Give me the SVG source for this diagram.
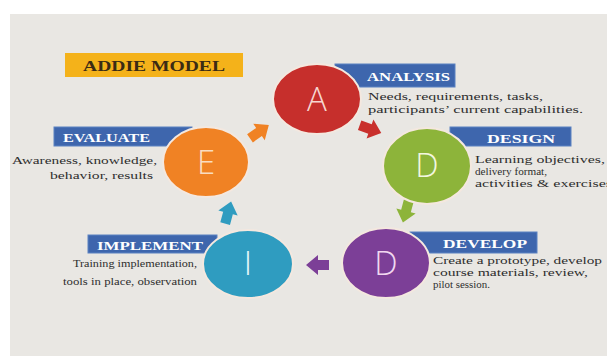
<svg xmlns="http://www.w3.org/2000/svg" width="607" height="358" viewBox="0 0 607 358">
<defs>
<style>
.lbl{fill:#3e66ad;stroke:#5b82c2;stroke-width:1}
.lt{font-family:"Liberation Serif",serif;font-weight:bold;font-size:12px;fill:#ffffff}
.ds{font-family:"Liberation Serif",serif;font-size:10.5px;fill:#2e2e2e}
.cir{stroke:#f4e8df;stroke-width:2}
.let{font-family:"Open Sans","Liberation Sans",sans-serif;font-weight:300;font-size:33px;text-anchor:middle}
</style>
<path id="arr" d="M-11,-5 H0 V-10 L12,0 L0,10 V5 H-11 Z"/>
</defs>
<rect x="0" y="0" width="607" height="358" fill="#ffffff"/>
<rect x="10" y="14" width="597" height="342" fill="#e9e7e3"/>

<g id="title">
<rect x="65" y="53" width="178" height="24" fill="#f4b21a"/>
<text x="83" y="71" font-family="Liberation Serif,serif" font-weight="bold" font-size="15" fill="#3b2b14" textLength="142" lengthAdjust="spacingAndGlyphs">ADDIE MODEL</text>
</g>

<g id="connectors">
<use href="#arr" transform="translate(370,129) rotate(20)" fill="#c9302c"/>
<use href="#arr" transform="translate(406,211) rotate(105)" fill="#8db43a"/>
<use href="#arr" transform="translate(318,265) rotate(180)" fill="#7c3f97"/>
<use href="#arr" transform="translate(228,213) rotate(-75)" fill="#2f9cc0"/>
<use href="#arr" transform="translate(259,132) rotate(-35)" fill="#f08224"/>
</g>

<g id="analysis">
<rect class="lbl" x="335" y="64" width="120" height="23"/>
<ellipse class="cir" cx="317" cy="99" rx="44" ry="35" fill="#c62f2c"/>
<text class="let" x="317" y="111" fill="#f7d6d0">A</text>
<text class="lt" x="367" y="81" textLength="83" lengthAdjust="spacingAndGlyphs">ANALYSIS</text>
<text class="ds" x="368" y="100" textLength="175" lengthAdjust="spacingAndGlyphs">Needs, requirements, tasks,</text>
<text class="ds" x="368" y="113" textLength="215" lengthAdjust="spacingAndGlyphs">participants’ current capabilities.</text>
</g>

<g id="design">
<rect class="lbl" x="450" y="127" width="121" height="19"/>
<ellipse class="cir" cx="427" cy="166" rx="44" ry="38" fill="#8db43a"/>
<text class="let" x="427" y="177" fill="#f3f7e0">D</text>
<text class="lt" x="487" y="143" textLength="68" lengthAdjust="spacingAndGlyphs">DESIGN</text>
<text class="ds" x="475" y="163" textLength="130" lengthAdjust="spacingAndGlyphs">Learning objectives,</text>
<text class="ds" x="475" y="175" textLength="72" lengthAdjust="spacingAndGlyphs">delivery format,</text>
<text class="ds" x="475" y="187" textLength="137" lengthAdjust="spacingAndGlyphs">activities &amp; exercises</text>
</g>

<g id="develop">
<rect class="lbl" x="410" y="232" width="127" height="21"/>
<ellipse class="cir" cx="386" cy="263" rx="44" ry="35" fill="#7c3f97"/>
<text class="let" x="386" y="275" fill="#f1d8f0">D</text>
<text class="lt" x="443" y="248" textLength="84" lengthAdjust="spacingAndGlyphs">DEVELOP</text>
<text class="ds" x="433" y="264" textLength="169" lengthAdjust="spacingAndGlyphs">Create a prototype, develop</text>
<text class="ds" x="433" y="276" textLength="155" lengthAdjust="spacingAndGlyphs">course  materials, review,</text>
<text class="ds" x="433" y="288" textLength="57" lengthAdjust="spacingAndGlyphs">pilot session.</text>
</g>

<g id="implement">
<rect class="lbl" x="88" y="235" width="129" height="18"/>
<ellipse class="cir" cx="248" cy="264" rx="45" ry="34" fill="#2f9cc0"/>
<text class="let" x="248" y="275" fill="#e6f5fa">I</text>
<text class="lt" x="97" y="250" textLength="106" lengthAdjust="spacingAndGlyphs">IMPLEMENT</text>
<text class="ds" x="73" y="267" textLength="124" lengthAdjust="spacingAndGlyphs">Training implementation,</text>
<text class="ds" x="63" y="285" textLength="134" lengthAdjust="spacingAndGlyphs">tools in place, observation</text>
</g>

<g id="evaluate">
<rect class="lbl" x="54" y="127" width="138" height="19"/>
<ellipse class="cir" cx="206" cy="162" rx="43" ry="35" fill="#f08224"/>
<text class="let" x="206" y="174" fill="#f9dcc0">E</text>
<text class="lt" x="63" y="142" textLength="87" lengthAdjust="spacingAndGlyphs">EVALUATE</text>
<text class="ds" x="12" y="164" textLength="145" lengthAdjust="spacingAndGlyphs">Awareness, knowledge,</text>
<text class="ds" x="50" y="179" textLength="103" lengthAdjust="spacingAndGlyphs">behavior, results</text>
</g>
</svg>
